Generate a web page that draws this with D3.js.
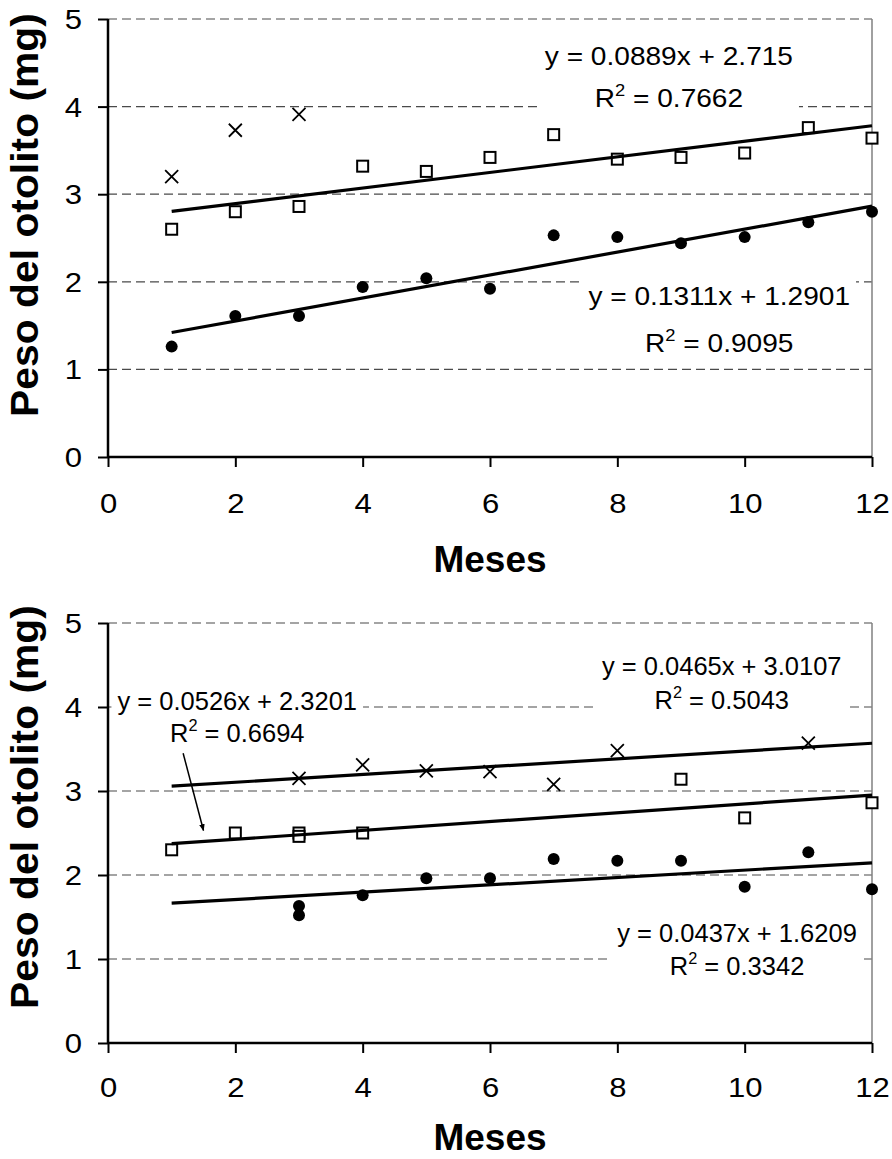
<!DOCTYPE html>
<html>
<head>
<meta charset="utf-8">
<script src="https://cdn.jsdelivr.net/npm/d3@7"></script>
<style>
  html, body { margin: 0; padding: 0; background: #fff; }
  svg { display: block; }
  text { font-family: "Liberation Sans", Arial, sans-serif; fill: #000; }
</style>
</head>
<body>
<svg id="chart" width="892" height="1159"></svg>
<script>
// ---------- DATA ----------
const xTicks = [0, 2, 4, 6, 8, 10, 12];
const yTicks = [0, 1, 2, 3, 4, 5];

// Top chart
const topCrossX = [1, 2, 3];
const topCrossY = [3.20, 3.73, 3.91];
const topSquareX = [1, 2, 3, 4, 5, 6, 7, 8, 9, 10, 11, 12];
const topSquareY = [2.60, 2.80, 2.86, 3.32, 3.26, 3.42, 3.68, 3.40, 3.42, 3.47, 3.76, 3.64];
const topCircleX = [1, 2, 3, 4, 5, 6, 7, 8, 9, 10, 11, 12];
const topCircleY = [1.26, 1.61, 1.61, 1.94, 2.04, 1.92, 2.53, 2.51, 2.44, 2.51, 2.68, 2.80];
const topTrendSlope = [0.0889, 0.1311];
const topTrendIntercept = [2.715, 1.2901];
const topTrendEq = ["y = 0.0889x + 2.715", "y = 0.1311x + 1.2901"];
const topTrendR2 = ["0.7662", "0.9095"];

// Bottom chart
const botCrossX = [3, 4, 5, 6, 7, 8, 11];
const botCrossY = [3.15, 3.31, 3.24, 3.23, 3.08, 3.48, 3.57];
const botSquareX = [1, 2, 3, 3, 4, 9, 10, 12];
const botSquareY = [2.30, 2.50, 2.50, 2.46, 2.50, 3.14, 2.68, 2.86];
const botCircleX = [3, 3, 4, 5, 6, 7, 8, 9, 10, 11, 12];
const botCircleY = [1.63, 1.52, 1.76, 1.96, 1.96, 2.19, 2.17, 2.17, 1.86, 2.27, 1.83];
const botTrendSlope = [0.0465, 0.0526, 0.0437];
const botTrendIntercept = [3.0107, 2.3201, 1.6209];
const botTrendEq = ["y = 0.0465x + 3.0107", "y = 0.0526x + 2.3201", "y = 0.0437x + 1.6209"];
const botTrendR2 = ["0.5043", "0.6694", "0.3342"];

const trendStart = 1, trendEnd = 12;
const xTitle = "Meses";
const yTitle = "Peso del otolito (mg)";

// ---------- LAYOUT (not data) ----------
const svg = d3.select("#chart");
const panels = [
  {
    top: 19, bottom: 457, left: 108, right: 872,
    tickLabelY: 513 - 457, titleY: 572 - 457, yTitleCenterShift: -23,
    labelFont: 26, labelSX: 1.08,
    crosses: { x: topCrossX, y: topCrossY },
    squares: { x: topSquareX, y: topSquareY },
    circles: { x: topCircleX, y: topCircleY },
    slopes: topTrendSlope, intercepts: topTrendIntercept,
    eqs: topTrendEq, r2s: topTrendR2,
    // label anchors in data units: [cx, eqBaseline, r2Baseline]
    labelPos: [[8.81, 4.47, 4.0], [9.6, 1.735, 1.2]],
    arrow: null
  },
  {
    top: 623, bottom: 1043, left: 108, right: 872,
    tickLabelY: 1097 - 1043, titleY: 1150 - 1043, yTitleCenterShift: -26,
    labelFont: 25, labelSX: 1.02,
    crosses: { x: botCrossX, y: botCrossY },
    squares: { x: botSquareX, y: botSquareY },
    circles: { x: botCircleX, y: botCircleY },
    slopes: botTrendSlope, intercepts: botTrendIntercept,
    eqs: botTrendEq, r2s: botTrendR2,
    labelPos: [[9.64, 4.38, 3.98], [2.03, 3.96, 3.58], [9.88, 1.2, 0.81]],
    arrow: [[1.18, 3.45], [1.5, 2.53]]
  }
];

const TICK_SX = 1.15, TITLE_SX = 1.075;

svg.append("defs").append("marker")
  .attr("id", "arrowhead")
  .attr("viewBox", "0 0 10 10")
  .attr("refX", 9).attr("refY", 5)
  .attr("markerWidth", 7).attr("markerHeight", 7)
  .attr("markerUnits", "userSpaceOnUse")
  .attr("orient", "auto")
  .append("path").attr("d", "M0,1 L10,5 L0,9 Z").attr("fill", "#000");

panels.forEach(p => {
  const x = d3.scaleLinear().domain([0, 12]).range([p.left, p.right]);
  const y = d3.scaleLinear().domain([0, 5]).range([p.bottom, p.top]);
  const g = svg.append("g");

  // gridlines
  g.append("g").selectAll("line").data(yTicks.filter(t => t > 0)).join("line")
    .attr("x1", p.left).attr("x2", p.right)
    .attr("y1", d => y(d)).attr("y2", d => y(d))
    .attr("stroke", "#4a4a4a").attr("stroke-width", 1.2)
    .attr("stroke-dasharray", "9,5");

  // right border
  g.append("line")
    .attr("x1", p.right).attr("x2", p.right)
    .attr("y1", p.top).attr("y2", p.bottom)
    .attr("stroke", "#808080").attr("stroke-width", 1.5);

  // Trend labels (white boxes + text)
  const labels = g.append("g");
  const supSize = Math.round(p.labelFont * 0.65);
  const supShift = Math.round(p.labelFont * 0.42);
  p.eqs.forEach((eq, i) => {
    const [cx, yb1, yb2] = p.labelPos[i];
    const lg = labels.append("g");
    const bg = lg.append("rect").attr("fill", "#fff");
    lg.append("text")
      .attr("transform", `translate(${x(cx)},${y(yb1)}) scale(${p.labelSX},1)`)
      .attr("text-anchor", "middle")
      .style("font-size", p.labelFont + "px")
      .text(eq);
    const t2 = lg.append("text")
      .attr("transform", `translate(${x(cx)},${y(yb2)}) scale(${p.labelSX},1)`)
      .attr("text-anchor", "middle")
      .style("font-size", p.labelFont + "px");
    t2.append("tspan").text("R");
    t2.append("tspan").attr("dy", -supShift).style("font-size", supSize + "px").text("2");
    t2.append("tspan").attr("dy", supShift).text(" = " + p.r2s[i]);
    const bb = lg.node().getBBox();
    bg.attr("x", bb.x - 6).attr("y", bb.y - 4)
      .attr("width", bb.width + 12).attr("height", bb.height + 6);
  });

  // axes
  const xAxis = d3.axisBottom(x).tickValues(xTicks).tickSize(10).tickFormat(d3.format("d"));
  const xa = g.append("g").attr("transform", `translate(0,${p.bottom})`).call(xAxis);
  xa.select(".domain").attr("stroke", "#000").attr("stroke-width", 2.5).attr("d", `M${p.left},0H${p.right}`);
  xa.selectAll(".tick line").attr("stroke", "#000").attr("stroke-width", 2);
  xa.selectAll(".tick text").attr("y", null).attr("dy", 0)
    .attr("transform", `translate(0,${p.tickLabelY}) scale(${TICK_SX},1)`)
    .style("font-size", "27px").attr("fill", "#000");

  const yAxis = d3.axisLeft(y).tickValues(yTicks).tickSize(10).tickFormat(d3.format("d"));
  const ya = g.append("g").attr("transform", `translate(${p.left},0)`).call(yAxis);
  ya.select(".domain").attr("stroke", "#000").attr("stroke-width", 2.5).attr("d", `M0,${p.top}V${p.bottom}`);
  ya.selectAll(".tick line").attr("stroke", "#000").attr("stroke-width", 2);
  ya.selectAll(".tick text").attr("x", 0).attr("dy", "0.35em")
    .attr("transform", `translate(-26,0) scale(${TICK_SX},1)`)
    .style("font-size", "27px").attr("fill", "#000");

  // markers
  const sq = p.squares.x.map((v, i) => [v, p.squares.y[i]]);
  g.append("g").selectAll("rect").data(sq).join("rect")
    .attr("x", d => x(d[0]) - 5.5).attr("y", d => y(d[1]) - 5.5)
    .attr("width", 11).attr("height", 11)
    .attr("fill", "#fff").attr("stroke", "#000").attr("stroke-width", 2);

  const ci = p.circles.x.map((v, i) => [v, p.circles.y[i]]);
  g.append("g").selectAll("circle").data(ci).join("circle")
    .attr("cx", d => x(d[0])).attr("cy", d => y(d[1])).attr("r", 6)
    .attr("fill", "#000");

  const cr = p.crosses.x.map((v, i) => [v, p.crosses.y[i]]);
  g.append("g").selectAll("path").data(cr).join("path")
    .attr("d", d => {
      const cx = x(d[0]), cy = y(d[1]), s = 6.5;
      return `M${cx - s},${cy - s}L${cx + s},${cy + s}M${cx - s},${cy + s}L${cx + s},${cy - s}`;
    })
    .attr("stroke", "#000").attr("stroke-width", 1.8).attr("fill", "none");

  // trend lines
  p.slopes.forEach((m, i) => {
    const b = p.intercepts[i];
    g.append("line")
      .attr("x1", x(trendStart)).attr("y1", y(m * trendStart + b))
      .attr("x2", x(trendEnd)).attr("y2", y(m * trendEnd + b))
      .attr("stroke", "#000").attr("stroke-width", 3.2);
  });

  // arrow
  if (p.arrow) {
    g.append("line")
      .attr("x1", x(p.arrow[0][0])).attr("y1", y(p.arrow[0][1]))
      .attr("x2", x(p.arrow[1][0])).attr("y2", y(p.arrow[1][1]))
      .attr("stroke", "#000").attr("stroke-width", 1.5)
      .attr("marker-end", "url(#arrowhead)");
  }

  // axis titles
  g.append("text")
    .attr("x", (p.left + p.right) / 2).attr("y", p.bottom + p.titleY)
    .attr("text-anchor", "middle")
    .style("font-size", "37px").style("font-weight", "bold")
    .text(xTitle);

  const cyT = (p.top + p.bottom) / 2 + p.yTitleCenterShift;
  g.append("text")
    .attr("transform", `translate(38,${cyT}) rotate(-90) scale(${TITLE_SX},1)`)
    .attr("text-anchor", "middle")
    .style("font-size", "38px").style("font-weight", "bold")
    .text(yTitle);
});
</script>
</body>
</html>
